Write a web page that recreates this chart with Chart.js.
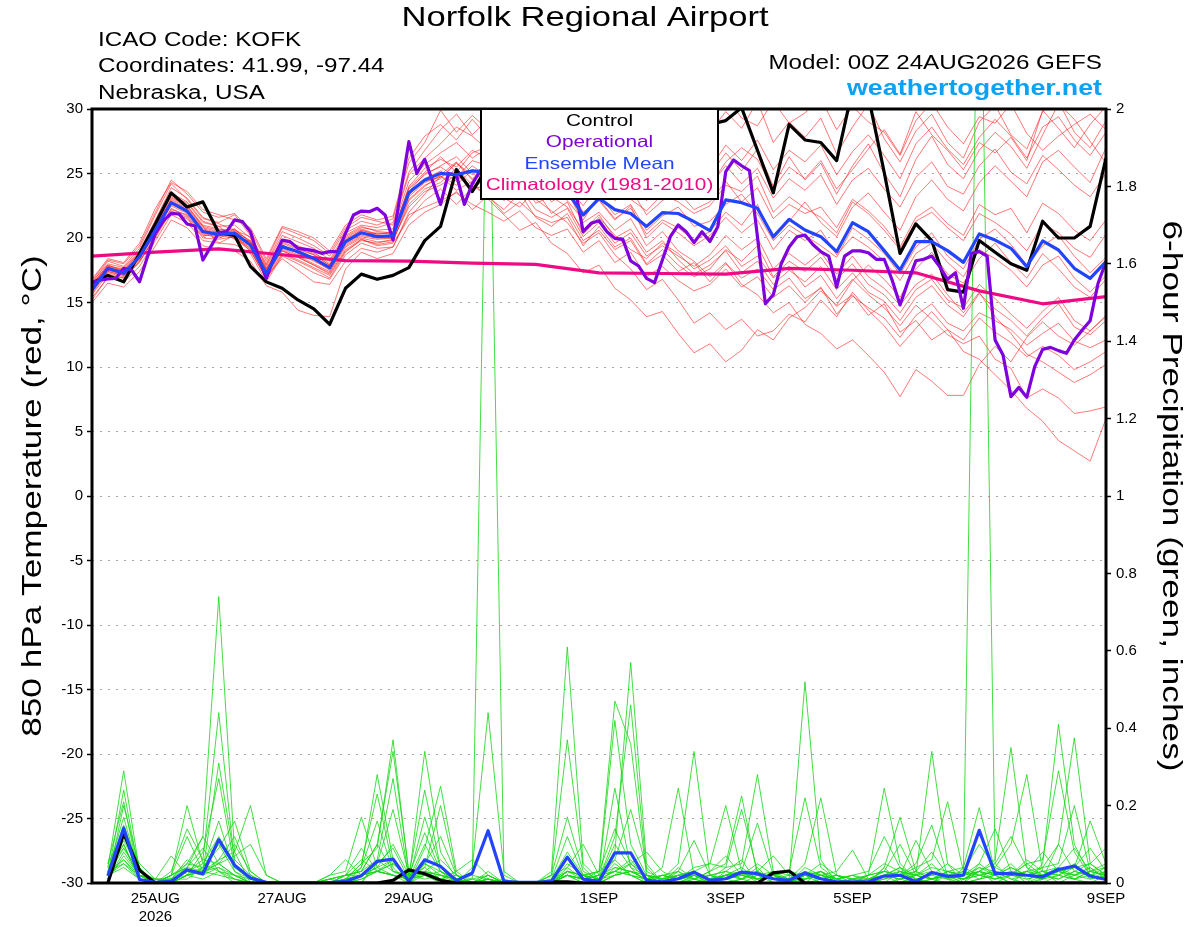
<!DOCTYPE html>
<html lang="en">
<head>
<meta charset="UTF-8">
<title>Norfolk Regional Airport - GEFS</title>
<script src="https://cdn.jsdelivr.net/npm/chart.js@4.4.1/dist/chart.umd.min.js"></script>
<style>
  html, body { margin: 0; padding: 0; background: #fff; }
</style>
</head>
<body>
<canvas id="myChart" width="1200" height="927"></canvas>
<script>
// ---- x axis (hours since 00Z 24AUG2026) ----
const TICK_HOURS = [24, 72, 120, 192, 240, 288, 336, 384];
const TICK_LABELS = ['25AUG', '27AUG', '29AUG', '1SEP', '3SEP', '5SEP', '7SEP', '9SEP'];
const YEAR_LABEL = '2026';

// ---- 850 hPa temperature, 6-hourly (65 values) ----
const CONTROL_T = [16.5,17.1,16.6,18.8,21.1, 23.5,22.4,22.8,20.4,20.2, 17.8,16.6,16.1,15.2,14.5, 13.3,16.1,17.2,16.8,17.1, 17.7,19.8,20.9,25.3,23.6, 25.6,26.8,27.3,26.4,27.9, 28.3,27.2,28.6,27.5,26.9, 27.8,28.4,27.6,28.2,28.8, 29.1,30.1,26.8,23.5,28.8, 27.6,27.4,26.0,31.5,31.0, 25.1,18.8,21.1,19.8,16.0, 15.8,19.8,18.9,18.0,17.5, 21.3,20.0,20.0,20.9,26.2];
const MEAN_T = [15.97,17.65,17.26,18.55,20.62, 22.74,22.09,20.49,20.28,20.36, 19.46,17.26,19.33,18.94,18.42, 17.70,19.72,20.41,20.10,20.16, 23.51,24.50,25.01,24.90,25.20, 25.1,24.9,24.6,24.2,23.9, 23.6,21.78,23.07,22.2,21.9, 20.9,21.96,21.9,21.27,20.57, 22.95,22.74,22.3,20.1,21.45, 20.62,20.1,18.94,21.19,20.49, 19.02,17.52,19.72,19.72,19.02, 18.11,20.31,19.84,19.2,17.78, 19.77,19.07,17.65,16.87,18.17];
// operational run is 3-hourly (129 values)
const OPER_T = [16.54,16.74,16.82,16.87,17.65, 17.52,16.61,18.55,20.36,21.34, 21.91,21.86,21.09,20.93,18.29, 19.33,20.41,20.49,21.40,21.27, 20.49,18.55,16.87,18.55,19.84, 19.72,19.20,19.12,19.02,18.81, 18.94,18.94,20.36,21.78,22.09, 22.04,22.30,21.78,19.84,23.72, 27.47,25.0,26.1,24.4,22.6, 25.0,24.9,22.6,24.2,25.2, 25.8,24.9,26.3,25.5,26.8, 26.0,25.4,26.6,25.7,24.9, 24.2,23.8,20.49,21.14,21.34, 20.49,19.97,19.90,18.22,17.83, 16.87,16.54,18.29,20.10,21.01, 20.49,19.64,20.49,19.72,20.88, 25.14,26.05,25.6,25.22,20.1, 14.9,15.6,18.0,19.3,20.1, 20.23,19.5,18.94,18.6,16.2, 18.6,19.0,19.0,18.86,18.35, 18.35,16.74,14.81,16.6,18.24, 18.35,18.6,17.78,16.8,17.31, 14.55,18.81,18.94,18.6,12.09, 10.93,7.7,8.42,7.65,10.03, 11.37,11.52,11.27,11.06,12.09, 12.87,13.59,16.49,18.17];
// climatology read once a day (17 values)
const CLIMO_T = [18.6,18.9,19.15,18.7,18.25,18.2,18.05,17.95,17.3,17.25,17.2,17.65,17.5,17.3,15.9,14.9,15.45];

const RED_01 = [16.5,18.2,17.8,19.2,21.8, 24.2,23.0,21.5,21.2,21.8, 20.2,18.0,20.5,20.0,19.4, 18.6,20.6,21.3,21.0,21.5, 25.8,27.4,29.9,28.2,29.5, 28.4,30.5,29.0,28.1,29.6, 27.3,26.0,28.5,27.2,29.4, 26.5,28.8,29.9,27.0,28.2, 29.8,28.5,30.6,27.4,29.0, 27.8,29.3,26.5,28.6,30.4, 27.7,25.9,28.3,29.6,27.4, 26.2,29.0,30.3,28.0,26.9, 29.8,30.6,28.2,27.0,29.1];
const RED_02 = [15.2,17.0,16.9,18.1,20.2, 22.0,21.5,20.1,20.6,19.9, 19.8,17.7,19.0,18.5,17.9, 17.3,19.3,20.0,19.7,19.8, 22.6,23.8,24.3,25.4,24.1, 23.2,22.2,23.5,21.6,20.9, 21.9,19.8,20.6,19.1,19.8, 17.9,18.7,17.4,18.1,16.6, 18.0,16.9,17.6,16.0,16.9, 15.3,16.1,14.7,15.6,14.0, 14.9,12.7,13.6,12.1,12.9, 11.2,10.6,9.4,8.2,6.8, 5.8,4.3,3.5,2.7,6.0];
const RED_03 = [16.0,17.4,17.1,18.4,20.8, 23.0,22.4,20.9,19.6,20.2, 19.1,16.8,18.7,18.2,17.6, 16.9,18.9,19.9,19.4,19.6, 21.5,22.9,23.8,22.6,23.9, 24.6,23.1,22.4,23.8,21.9, 22.8,20.3,21.6,20.2,19.1, 18.4,19.6,18.8,17.6,18.3, 19.4,17.8,18.6,16.9,17.8, 16.2,17.1,15.3,16.8,15.6, 14.6,13.2,14.8,13.7,12.5, 11.8,12.4,10.6,9.9,7.6, 8.3,7.6,6.4,6.6,6.9];
const RED_04 = [15.8,17.6,17.5,18.8,21.0, 23.3,22.7,21.2,20.9,20.0, 19.0,17.0,18.4,17.5,16.6, 16.4,18.2,19.2,18.9,19.3, 22.0,23.4,24.8,23.7,24.4, 23.0,21.8,20.6,21.2,19.6, 18.8,17.3,17.9,16.1,15.2, 13.9,14.3,12.6,11.1,11.8, 10.4,11.3,12.9,12.1,13.8, 14.6,15.9,14.8,16.7,17.9, 16.8,15.4,17.6,18.9,17.2, 16.5,18.4,19.6,18.1,16.9, 18.8,17.6,16.2,15.4,16.8];
const RED_05 = [16.4,17.9,17.4,18.3,20.4, 22.5,21.9,20.6,20.1,20.7, 19.6,17.4,19.6,19.1,18.7, 17.9,20.0,20.7,20.3,20.5, 23.8,24.9,25.6,26.3,25.0, 24.4,23.6,24.9,23.0,22.1, 21.2,19.6,20.4,18.7,17.6, 16.0,16.8,15.2,13.4,14.2, 12.9,13.7,12.4,12.8,14.1, 13.5,15.2,13.9,15.8,14.4, 13.2,11.6,13.0,14.3,12.9, 12.1,13.8,12.7,11.9,10.8, 11.6,10.9,9.8,10.4,11.2];
const RED_06 = [16.1,17.5,17.2,18.7,20.9, 22.9,22.3,20.8,20.5,20.1, 19.3,17.1,19.1,18.6,18.0, 17.4,19.5,20.2,20.0,20.0, 23.0,24.1,24.6,25.8,24.9, 25.7,24.2,23.3,24.5,22.8, 23.6,21.2,22.0,20.6,21.5, 19.4,20.5,19.0,18.2,17.0, 18.1,16.4,15.6,14.2,15.0, 13.3,12.6,11.4,12.1,10.9, 9.6,7.7,9.8,8.9,7.8, 7.8,10.2,11.6,10.4,12.3, 13.5,12.4,11.7,12.8,13.9];
const RED_07 = [16.3,17.8,17.6,18.9,21.2, 23.5,22.8,21.3,20.9,21.0, 20.0,17.8,19.9,19.3,18.8, 18.2,20.1,20.8,20.6,20.7, 24.4,25.7,26.6,27.4,26.2, 27.0,26.1,27.8,25.9,26.7, 25.4,23.6,25.7,24.3,25.9, 23.1,24.6,25.9,23.8,24.9, 26.6,25.2,26.9,24.0,26.3, 24.5,25.8,23.4,25.6,27.3, 25.0,23.2,26.1,27.9,25.7, 24.6,26.8,28.2,27.1,25.4, 28.0,30.4,29.2,27.5,25.8];
const RED_08 = [15.9,17.3,17.0,18.5,20.3, 22.2,21.8,20.3,20.0,20.5, 19.4,17.2,19.4,19.0,18.5, 17.8,19.8,20.6,20.2,20.1, 23.2,24.3,24.8,24.1,25.3, 24.8,25.5,24.0,23.6,24.2, 22.9,21.4,23.3,21.8,22.6, 20.6,21.7,22.4,20.9,21.3, 22.6,23.4,21.9,19.8,21.0, 20.2,19.4,18.5,20.8,19.9, 18.8,17.2,19.3,20.4,18.6, 17.6,19.9,20.7,19.5,17.9, 19.4,20.2,18.6,17.3,18.5];
const RED_09 = [16.6,18.0,17.7,19.0,21.4, 23.9,23.1,21.6,21.1,20.6, 20.1,17.9,20.2,19.7,19.2, 18.3,20.4,21.0,20.8,21.2, 25.1,26.8,28.4,29.6,28.0, 29.2,28.0,26.9,27.6,26.1, 25.2,23.8,25.0,23.9,23.0, 22.1,23.4,22.8,21.9,22.5, 24.1,23.6,24.8,22.0,23.2, 22.3,21.6,20.4,22.8,21.9, 20.6,19.1,21.3,22.0,20.8, 19.8,21.9,21.2,20.3,19.0, 21.1,20.4,19.2,18.5,20.3];
const RED_10 = [15.4,16.9,16.6,17.8,19.8, 21.8,21.2,19.8,19.6,19.5, 18.8,16.6,18.6,18.0,17.3, 16.8,18.7,19.6,19.2,19.3, 21.8,22.4,22.9,23.5,22.6, 22.0,21.3,22.1,20.8,20.2, 20.7,18.9,19.8,18.1,18.9, 17.0,17.8,16.7,15.9,16.4, 17.6,16.2,17.0,15.4,16.3, 15.0,16.2,14.1,15.5,14.6, 13.8,12.3,14.0,14.9,13.4, 12.8,14.2,13.6,12.9,11.7, 12.6,13.4,12.0,11.5,12.1];
const RED_11 = [16.7,18.3,18.0,19.4,22.0, 24.5,23.4,22.0,21.6,21.9, 20.6,18.2,20.8,20.3,19.8, 18.8,20.8,21.6,21.3,21.0, 24.9,26.2,27.3,28.6,27.9, 26.8,28.9,27.4,29.5,28.3, 26.9,25.1,27.9,26.4,28.3, 27.1,29.6,28.0,30.2,29.4, 31.0,29.3,28.7,30.6,28.9, 29.7,30.8,28.4,30.2,29.0, 28.2,26.4,29.1,30.5,28.6, 27.3,29.4,28.9,30.4,28.1, 26.8,27.9,28.8,29.6,28.4];
const RED_12 = [16.0,17.7,17.3,18.6,20.7, 22.8,22.2,20.7,20.4,20.2, 19.7,17.5,19.5,18.8,18.2, 17.6,19.6,20.3,20.4,20.3, 23.6,25.0,25.5,24.7,26.0, 25.6,24.8,25.9,24.4,25.1, 24.0,22.5,24.2,22.9,23.8, 21.8,22.9,23.6,22.2,22.8, 24.4,22.8,23.9,21.5,22.6, 21.9,22.4,20.8,23.0,22.1, 20.9,19.3,21.6,22.4,21.1, 20.2,22.6,21.8,22.3,20.4, 22.7,21.9,20.6,19.8,21.4];
const RED_13 = [15.7,17.4,17.1,18.2,20.1, 22.3,21.7,20.2,20.2,20.0, 19.2,17.0,19.0,18.5,17.9, 17.2,19.1,19.9,19.5,19.7, 22.9,24.0,24.9,25.9,24.5, 25.3,24.5,23.8,24.9,23.4, 24.1,22.0,23.0,21.5,22.3, 20.3,21.4,20.8,19.8,20.5, 22.0,21.0,22.6,19.9,21.3, 22.8,21.2,20.1,22.4,23.5, 22.0,20.6,23.2,24.5,23.0, 22.1,24.3,25.6,24.4,23.2, 25.9,26.8,25.5,24.3,27.0];
const RED_14 = [16.2,17.6,17.3,18.4,20.5, 22.6,22.0,20.4,20.2,20.6, 19.5,17.3,19.2,18.7,18.3, 17.5,19.4,20.1,19.9,20.0, 23.3,24.6,25.2,24.4,25.6, 24.7,23.4,24.6,22.7,23.2, 22.4,20.6,21.8,20.0,20.7, 18.9,19.8,18.3,17.2,17.9, 19.0,17.3,18.2,16.4,17.5, 16.6,17.8,16.0,17.3,15.8, 15.1,13.6,15.4,16.3,14.8, 13.9,15.7,14.5,13.6,12.4, 13.8,14.9,13.1,12.5,13.6];
const RED_15 = [16.4,17.9,17.5,18.8,21.1, 23.2,22.5,21.0,20.7,20.5, 19.8,17.6,19.8,19.4,18.9, 18.0,20.2,20.9,20.5,20.4, 24.0,25.4,26.1,25.5,26.8, 26.2,27.3,25.6,26.4,25.0, 24.7,23.0,24.6,23.5,24.9, 22.9,24.0,24.8,23.0,24.1, 25.6,24.2,25.4,23.1,24.6, 23.7,24.9,22.6,24.5,25.4, 23.8,22.4,24.7,25.9,24.0, 23.4,25.6,26.9,25.1,24.2, 26.4,25.3,24.1,23.2,25.0];
const RED_16 = [15.6,17.2,16.9,18.2,20.0, 22.1,21.6,20.0,19.9,20.1, 19.0,16.9,18.8,18.3,17.7, 17.1,19.0,19.8,19.6,19.9, 22.4,23.6,24.1,24.9,23.8, 24.1,22.9,23.9,22.2,21.6, 22.3,20.1,21.2,19.6,20.4, 18.6,19.4,18.6,17.8,18.7, 20.2,19.1,20.0,17.6,18.8, 17.9,18.9,17.2,18.6,17.0, 16.1,14.8,16.4,17.2,15.6, 14.2,15.8,13.9,12.6,11.0, 10.4,9.6,8.8,9.4,10.2];
const RED_17 = [15.0,16.5,16.2,17.4,19.4, 21.4,20.8,19.4,19.1,19.0, 18.2,16.3,15.8,14.4,14.0, 13.9,17.6,18.9,18.4,18.8, 21.0,22.0,22.6,23.6,22.2, 23.3,21.9,22.8,21.7,21.2, 21.6,19.4,20.9,19.3,20.0, 18.0,19.1,17.9,17.0,17.6, 19.1,18.2,19.4,17.0,18.2, 17.4,18.5,16.8,18.0,16.4, 15.6,14.2,16.0,16.8,15.2, 14.6,16.4,15.3,14.1,13.0, 14.3,15.4,13.6,12.8,14.0];
const RED_18 = [16.8,18.4,18.1,19.6,22.3, 24.3,23.6,22.2,21.8,21.4, 20.8,18.4,20.9,20.5,20.0, 19.0,21.0,21.8,21.4,21.7, 26.2,27.9,28.8,27.6,29.2, 27.8,29.6,28.3,27.1,28.8, 26.2,24.4,26.9,25.6,27.1, 25.0,26.6,27.4,26.0,25.4, 27.2,26.0,27.6,25.3,26.8, 25.9,27.2,24.9,26.7,28.0, 26.4,24.6,27.3,28.6,26.9, 25.7,27.8,29.2,27.9,26.2, 28.6,29.4,27.6,26.4,28.2];
const RED_19 = [16.1,17.5,17.2,18.6,20.6, 22.7,22.0,20.6,20.3,20.3, 19.4,17.3,19.4,18.9,18.4, 17.7,19.6,20.4,20.1,20.2, 23.4,24.4,24.7,25.8,24.6, 25.4,26.1,24.9,25.3,23.7, 23.9,21.8,22.9,21.4,22.5, 20.0,21.2,20.4,19.4,20.2, 21.6,20.4,21.4,19.1,20.6, 19.8,20.6,18.7,20.1,19.3, 18.2,16.7,18.8,19.6,18.1, 17.0,19.1,18.4,17.5,16.2, 17.9,18.6,16.9,15.8,17.1];
const RED_20 = [16.3,17.8,17.4,18.7,20.9, 23.1,22.5,20.9,20.6,20.7, 19.7,17.6,19.7,19.2,18.7, 17.9,19.9,20.6,20.3,20.4, 23.9,25.1,26.3,25.1,26.6, 27.1,25.9,26.8,25.5,26.2, 25.6,24.0,25.3,23.7,25.2, 23.6,25.1,24.4,23.4,24.0, 25.9,27.0,26.1,23.8,25.5, 24.6,26.0,23.8,25.3,26.9, 28.4,26.5,29.8,28.0,26.8, 25.3,27.4,26.6,27.8,26.0, 29.9,28.5,27.0,28.8,30.2];

// ---- 6-hour precipitation, inches (65 slots, first slot empty) ----
const CONTROL_P = [null,0,0.128,0.033,0, 0,0,0,0,0, 0,0,0,0,0, 0,0,0,0,0.007, 0.034,0.024,0.007,0,0, 0,0,0,0,0.003, 0.003,0,0,0,0, 0,0,0,0,0, 0,0,0,0.026,0.031, 0,0,0,0,0, 0,0,0,0,0, 0,0,0,0,0, 0,0,0,0,0];
const MEAN_P = [null,0.019,0.142,0.009,0.002, 0.004,0.034,0.024,0.112,0.046, 0.013,0.002,0.001,0.001,0.001, 0.001,0.004,0.019,0.056,0.062, 0.004,0.060,0.043,0.006,0.026, 0.135,0.004,0.002,0.002,0.004, 0.067,0.010,0.004,0.078,0.078, 0.007,0.003,0.011,0.028,0.007, 0.011,0.028,0.024,0.011,0.007, 0.026,0.011,0.003,0.003,0.003, 0.018,0.020,0.004,0.027,0.017, 0.020,0.136,0.024,0.024,0.020, 0.016,0.035,0.044,0.018,0.009];

const GRN_01 = [null,0.04,0.29,0.03,0, 0.02,0.05,0.12,0.74,0.08, 0,0,0,0,0, 0,0.01,0.05,0.09,0.37, 0.02,0.04,0.01,0,0, 0,0,0,0,0.03, 0.61,0.05,0.01,0.06,0.02, 0,0,0.01,0,0, 0.02,0.03,0,0,0.01, 0.52,0.06,0,0,0, 0.02,0.01,0,0,0.03, 0.01,0.04,0.02,0,0, 0.05,0.41,0.1,0.02,0.01];
const GRN_02 = [null,0.02,0.24,0.02,0, 0,0.03,0.06,0.44,0.05, 0.01,0,0,0,0, 0,0,0.04,0.28,0.06, 0,0.05,0.03,0,0.01, 2.3,0.02,0,0,0, 0.03,0.01,0,0.08,0.57, 0.05,0,0,0.02,0, 0,0.01,0.03,0,0, 0.02,0,0,0.01,0, 0,0.03,0,0.01,0.02, 0,0.03,0.06,0.35,0.04, 0,0.02,0.05,0.01,0.03];
const GRN_03 = [null,0.05,0.21,0.01,0, 0.01,0.04,0.03,0.31,0.06, 0.02,0,0,0,0, 0.01,0,0,0.05,0.09, 0.01,0.34,0.08,0.01,0, 0.01,0,0,0,0, 0.05,0.02,0.03,0.47,0.36, 0.02,0,0.04,0.01,0, 0.03,0.06,0,0,0, 0.01,0.03,0,0,0, 0.04,0,0.02,0.34,0.05, 0,0.01,0.02,0,0.03, 0.01,0.1,0.375,0.05,0.02];
const GRN_04 = [null,0.01,0.2,0.04,0, 0.02,0.2,0.05,0.03,0, 0,0,0,0,0, 0,0.02,0.03,0.1,0.34, 0.03,0.02,0,0,0, 0.01,0,0,0,0.01, 0.02,0,0.01,0.12,0.46, 0.03,0.01,0.05,0.34,0.02, 0,0.01,0,0.02,0, 0,0.01,0,0,0.01, 0.02,0,0.01,0,0.03, 0.02,2.7,0.05,0.01,0, 0.02,0.04,0.01,0,0.02];
const GRN_05 = [null,0.03,0.17,0.02,0.01, 0,0.02,0.08,0.27,0.04, 0.01,0,0,0,0, 0,0,0.02,0.04,0.06, 0,0.09,0.25,0.03,0, 0.02,0,0,0,0.02, 0.37,0.04,0,0.02,0.05, 0.01,0,0.03,0,0.01, 0.04,0.05,0.28,0.03,0, 0.02,0.01,0,0,0, 0,0.01,0.02,0.05,0.01, 0,0.01,0.04,0.1,0.28, 0.03,0,0.02,0.04,0.01];
const GRN_06 = [null,0.02,0.15,0.03,0, 0.01,0.01,0.04,0.09,0.16, 0.03,0,0,0,0, 0,0,0,0.06,0.27, 0.01,0.05,0.02,0,0, 0,0.01,0,0,0, 0.04,0.01,0.02,0.42,0.1, 0.02,0,0,0.01,0.03, 0.05,0.225,0.02,0,0, 0.03,0,0,0.01,0, 0.02,0.04,0,0.01,0.02, 0.01,0.03,0,0.02,0.05, 0.06,0.29,0.08,0.02,0.03];
const GRN_07 = [null,0.01,0.12,0.02,0, 0.03,0.14,0.06,0.05,0.02, 0,0,0,0,0, 0,0.01,0.05,0.23,0.04, 0,0.02,0.01,0,0.04, 0.44,0.03,0,0,0, 0.02,0,0.01,0.03,0.06, 0.01,0.04,0.245,0.02,0, 0.01,0,0.02,0.01,0, 0.04,0.02,0,0,0.02, 0.245,0.05,0.01,0,0.02, 0,0.05,0.02,0.03,0, 0.01,0.03,0.02,0.04,0.01];
const GRN_08 = [null,0.03,0.1,0.01,0, 0,0.02,0.03,0.06,0.08, 0.2,0.02,0,0,0, 0,0,0.01,0.03,0.05, 0.02,0.24,0.04,0,0, 0,0,0,0,0.01, 0.03,0.02,0,0.245,0.04, 0,0.01,0.02,0,0.02, 0.03,0.01,0.04,0,0.01, 0.05,0.22,0.02,0,0, 0.01,0.02,0.03,0.01,0, 0.04,0.02,0.01,0.03,0.02, 0.04,0.05,0.2,0.03,0.02];
const GRN_09 = [null,0.02,0.09,0.03,0.01, 0.01,0.05,0.04,0.16,0.03, 0.01,0,0,0,0, 0.02,0.03,0.17,0.04,0.02, 0.01,0.03,0.02,0.01,0, 0.03,0,0,0,0.02, 0.17,0.03,0.01,0.05,0.02, 0,0.02,0.01,0.04,0.05, 0.2,0.03,0.01,0.02,0, 0.03,0.01,0.02,0,0.01, 0.03,0.02,0.04,0.06,0.21, 0.03,0.01,0.02,0.05,0.01, 0.02,0.03,0.01,0.02,0.04];
const GRN_10 = [null,0.01,0.07,0.02,0, 0.02,0.12,0.03,0.02,0.01, 0,0,0,0,0, 0,0.01,0.02,0.05,0.19, 0.02,0.03,0.01,0.02,0, 0.01,0,0,0,0, 0.02,0.01,0.03,0.06,0.19, 0.04,0,0.01,0.03,0.01, 0.02,0.01,0.02,0.03,0.01, 0,0.03,0.01,0,0, 0.04,0.17,0.03,0.01,0.02, 0.01,0.02,0.03,0.01,0.02, 0.03,0.02,0.04,0.16,0.05];
const GRN_11 = [null,0.02,0.06,0.01,0, 0.02,0.04,0.12,0.05,0.02, 0,0,0,0,0, 0.01,0.02,0.02,0.03,0.06, 0.01,0.04,0.2,0.02,0.01, 0.02,0,0,0,0.01, 0.12,0.02,0.01,0.02,0.03, 0.01,0.02,0.03,0.01,0, 0.02,0.04,0.01,0.02,0.03, 0.22,0.04,0.01,0,0.02, 0.05,0.03,0.02,0.01,0.03, 0.04,0.195,0.03,0.02,0.01, 0.02,0.01,0.03,0.02,0.01];
const GRN_12 = [null,0.03,0.05,0.02,0, 0.01,0.03,0.05,0.12,0.04, 0.01,0,0,0,0, 0,0.01,0.04,0.16,0.03, 0.01,0.02,0.03,0.01,0, 0.02,0,0,0,0, 0.03,0.02,0.03,0.14,0.05, 0.02,0.01,0.02,0.03,0.05, 0.04,0.19,0.03,0.01,0, 0.02,0.03,0,0.01,0.02, 0.03,0.02,0.05,0.15,0.02, 0.01,0.03,0.02,0.04,0.02, 0.01,0.04,0.02,0.03,0.02];
const GRN_13 = [null,0.01,0.08,0.02,0, 0.01,0.03,0.02,0.06,0.12, 0.02,0,0,0,0, 0,0,0.01,0.03,0.05, 0.01,0.17,0.04,0.01,0.02, 0.01,0,0,0,0, 0.02,0.01,0,0.04,0.03, 0.02,0.01,0.03,0.11,0.02, 0.01,0.02,0.05,0.02,0.01, 0.01,0.02,0.03,0.085,0.01, 0.02,0.04,0.01,0.02,0.05, 0.02,0.03,0.05,0.12,0.04, 0.02,0.01,0.03,0.05,0.02];
const GRN_14 = [null,0.02,0.04,0.01,0, 0,0.02,0.03,0.05,0.07, 0.1,0.02,0,0,0, 0.01,0.02,0.09,0.03,0.02, 0,0.03,0.02,0.01,0, 0.01,0,0,0,0.02, 0.04,0.1,0.02,0.03,0.02, 0.01,0,0.02,0.03,0.01, 0.02,0.03,0.155,0.02,0.01, 0.03,0.02,0.01,0.02,0, 0.01,0.03,0.02,0.04,0.03, 0.02,0.05,0.14,0.03,0.02, 0.01,0.02,0.01,0.03,0.04];
const GRN_15 = [null,0.03,0.06,0.02,0.01, 0.01,0.02,0.04,0.1,0.03, 0,0,0,0,0, 0,0.02,0.03,0.1,0.03, 0.02,0.13,0.03,0,0.01, 0,0,0,0,0, 0.03,0.02,0.01,0.1,0.04, 0.02,0.01,0.02,0.01,0.02, 0.03,0.02,0.01,0.03,0.02, 0.01,0.02,0.01,0.02,0.03, 0.12,0.04,0.02,0.01,0.02, 0.03,0.02,0.01,0.02,0.03, 0.04,0.1,0.03,0.02,0.01];
const GRN_16 = [null,0.02,0.05,0.01,0, 0.01,0.06,0.03,0.04,0.02, 0.01,0,0,0,0, 0,0.01,0.02,0.04,0.1, 0.02,0.05,0.12,0.02,0, 0.01,0,0,0,0.01, 0.08,0.02,0,0.02,0.03, 0.01,0.02,0.01,0.02,0.01, 0.01,0.02,0.03,0.01,0.02, 0.02,0.01,0.02,0.01,0.01, 0.03,0.02,0.11,0.03,0.01, 0.02,0.04,0.03,0.02,0.05, 0.02,0.03,0.04,0.05,0.09];
const GRN_17 = [null,0.04,0.09,0.02,0.01, 0.07,0.02,0.01,0.03,0.01, 0,0,0,0,0, 0.02,0.06,0.02,0.03,0.02, 0.01,0.02,0.01,0.03,0.06, 0.02,0,0,0,0, 0.02,0.01,0.02,0.03,0.02, 0.01,0,0.02,0.01,0.03, 0.07,0.02,0.01,0.02,0.03, 0.02,0.03,0.01,0.02,0.01, 0.02,0.01,0.03,0.08,0.02, 0.01,0.03,0.02,0.04,0.02, 0.03,0.04,0.09,0.03,0.02];
const GRN_18 = [null,0.02,0.11,0.03,0, 0.02,0.04,0.09,0.03,0.02, 0,0,0,0,0, 0,0.02,0.06,0.03,0.02, 0.01,0.03,0.06,0.02,0, 0.01,0,0,0,0, 0.02,0.01,0.02,0.04,0.03, 0.02,0.01,0.01,0.02,0.01, 0.02,0.01,0.03,0.07,0.02, 0.01,0.02,0.01,0,0.01, 0.02,0.03,0.01,0.02,0.01, 0.03,0.1,0.04,0.02,0.03, 0.08,0.03,0.02,0.01,0.02];
const GRN_19 = [null,0.05,0.13,0.05,0.01, 0.01,0.03,0.02,0.04,0.01, 0,0,0,0,0, 0.01,0.02,0.03,0.06,0.03, 0.02,0.01,0.02,0.01,0, 0.01,0,0,0,0, 0.03,0.02,0.01,0.03,0.05, 0.08,0.03,0.01,0.02,0.01, 0.02,0.03,0.01,0.02,0.01, 0.02,0.01,0.02,0.01,0.02, 0.03,0.1,0.02,0.01,0.03, 0.02,0.03,0.01,0.02,0.03, 0.02,0.03,0.04,0.09,0.03];
const GRN_20 = [null,0.03,0.1,0.01,0, 0,0.02,0.03,0.05,0.1, 0.03,0,0,0,0, 0,0.01,0.02,0.03,0.02, 0.01,0.1,0.03,0.01,0, 0,0,0,0,0, 0.02,0.01,0,0.02,0.03, 0.01,0.02,0.01,0.02,0.02, 0.01,0.02,0.01,0.02,0.01, 0.02,0.05,0.02,0.01,0, 0.02,0.01,0.02,0.03,0.02, 0.01,0.02,0.03,0.02,0.06, 0.03,0.02,0.01,0.03,0.05];

const TEMP_MEMBERS = [RED_01, RED_02, RED_03, RED_04, RED_05, RED_06, RED_07, RED_08, RED_09, RED_10,
  RED_11, RED_12, RED_13, RED_14, RED_15, RED_16, RED_17, RED_18, RED_19, RED_20];
const PRECIP_MEMBERS = [GRN_01, GRN_02, GRN_03, GRN_04, GRN_05, GRN_06, GRN_07, GRN_08, GRN_09, GRN_10,
  GRN_11, GRN_12, GRN_13, GRN_14, GRN_15, GRN_16, GRN_17, GRN_18, GRN_19, GRN_20];

const LEGEND_ITEMS = [
  { text: 'Control', color: '#000000' },
  { text: 'Operational', color: '#7f00dd' },
  { text: 'Ensemble Mean', color: '#2244ff' },
  { text: 'Climatology (1981-2010)', color: '#ee0a84' }
];

const FONT = "'Liberation Sans', Arial, Helvetica, sans-serif";
Chart.defaults.font.family = FONT;
Chart.defaults.color = '#000';

// turn a list of values into points on the hour axis
function toPoints(values, stepHours) {
  return values.map((v, i) => ({ x: i * stepHours, y: v }));
}

// the original plot uses a wide sans face, so text is stretched sideways
function wideText(ctx, text, x, y, opts) {
  ctx.save();
  ctx.translate(x, y);
  if (opts.rotate) ctx.rotate(opts.rotate);
  ctx.scale(opts.sx || 1, 1);
  ctx.font = opts.font;
  ctx.fillStyle = opts.color || '#000';
  ctx.textAlign = opts.align || 'left';
  ctx.textBaseline = 'middle';
  ctx.fillText(text, 0, 0);
  ctx.restore();
}

const datasets = [];
TEMP_MEMBERS.forEach(m => datasets.push({
  data: toPoints(m, 6), yAxisID: 'yT', borderColor: 'rgba(255,30,30,0.6)', borderWidth: 1, order: 6
}));
PRECIP_MEMBERS.forEach(m => datasets.push({
  data: toPoints(m, 6), yAxisID: 'yP', borderColor: 'rgba(20,215,20,0.8)', borderWidth: 1, order: 5
}));
datasets.push({ data: toPoints(CLIMO_T, 24), yAxisID: 'yT', borderColor: '#ee0a84', borderWidth: 3.2, order: 4 });
datasets.push({ data: toPoints(CONTROL_T, 6), yAxisID: 'yT', borderColor: '#000', borderWidth: 3.2, order: 3 });
datasets.push({ data: toPoints(CONTROL_P, 6), yAxisID: 'yP', borderColor: '#000', borderWidth: 3.2, order: 3 });
datasets.push({ data: toPoints(OPER_T, 3), yAxisID: 'yT', borderColor: '#7f00dd', borderWidth: 3.2, order: 2 });
datasets.push({ data: toPoints(MEAN_T, 6), yAxisID: 'yT', borderColor: '#2244ff', borderWidth: 3.2, order: 1 });
datasets.push({ data: toPoints(MEAN_P, 6), yAxisID: 'yP', borderColor: '#2244ff', borderWidth: 3.2, order: 1 });

// frame around the plot + the boxed legend
const frameLegend = {
  id: 'frameLegend',
  afterDatasetsDraw(chart) {
    const { ctx, chartArea: a } = chart;
    ctx.save();
    ctx.strokeStyle = '#000';
    ctx.lineWidth = 3;
    ctx.strokeRect(a.left, a.top, a.right - a.left, a.bottom - a.top);

    const bx = 481, by = a.top, bw = 237, bh = 90;
    ctx.fillStyle = '#fff';
    ctx.fillRect(bx, by, bw, bh);
    ctx.lineWidth = 2;
    ctx.strokeRect(bx, by, bw, bh);
    ctx.restore();
    LEGEND_ITEMS.forEach((it, k) => {
      wideText(ctx, it.text, bx + bw / 2, by + 12.5 + k * 21.3,
        { font: '16.5px ' + FONT, sx: 1.26, align: 'center', color: it.color });
    });
  }
};

// station info above the plot and the two axis titles
const header = {
  id: 'header',
  afterDraw(chart) {
    const ctx = chart.ctx;
    const a = chart.chartArea;
    const midY = (a.top + a.bottom) / 2;
    wideText(ctx, 'Norfolk Regional Airport', 585, 18, { font: '28px ' + FONT, sx: 1.235, align: 'center' });

    const f20 = '20px ' + FONT;
    wideText(ctx, 'ICAO Code: KOFK', 98, 40, { font: f20, sx: 1.21 });
    wideText(ctx, 'Coordinates: 41.99, -97.44', 98, 66, { font: f20, sx: 1.21 });
    wideText(ctx, 'Nebraska, USA', 98, 93, { font: f20, sx: 1.21 });
    wideText(ctx, 'Model: 00Z 24AUG2026 GEFS', 1102, 63, { font: f20, sx: 1.21, align: 'right' });
    wideText(ctx, 'weathertogether.net', 1102, 89,
      { font: 'bold 22px ' + FONT, sx: 1.22, align: 'right', color: '#0aa2f5' });

    wideText(ctx, '850 hPa Temperature (red, °C)', 33, midY,
      { font: '28px ' + FONT, sx: 1.257, align: 'center', rotate: -Math.PI / 2 });
    wideText(ctx, '6-hour Precipitation (green, inches)', 1171, midY,
      { font: '28px ' + FONT, sx: 1.26, align: 'center', rotate: Math.PI / 2 });
  }
};

new Chart(document.getElementById('myChart'), {
  type: 'line',
  data: { datasets },
  plugins: [frameLegend, header],
  options: {
    responsive: false,
    animation: false,
    events: [],
    layout: { padding: { top: 109, left: 0, right: 0, bottom: 0 } },
    elements: {
      point: { radius: 0 },
      line: { tension: 0, fill: false, borderJoinStyle: 'round' }
    },
    plugins: { legend: { display: false }, tooltip: { enabled: false }, title: { display: false } },
    scales: {
      x: {
        type: 'linear', min: 0, max: 384,
        afterBuildTicks: s => { s.ticks = TICK_HOURS.map(v => ({ value: v })); },
        afterFit: s => { s.height = 44; },
        grid: { display: false, drawTicks: false },
        border: { display: false },
        ticks: {
          color: '#000', font: { size: 15 }, padding: 7, maxRotation: 0, autoSkip: false,
          callback: v => {
            const k = TICK_HOURS.indexOf(v);
            return k === 0 ? [TICK_LABELS[k], YEAR_LABEL] : TICK_LABELS[k];
          }
        }
      },
      yT: {
        position: 'left', min: -30, max: 30,
        afterFit: s => { s.width = 92; },
        ticks: { stepSize: 5, color: '#000', font: { size: 15 }, padding: 4 },
        grid: { color: '#a8a8a8', lineWidth: 1, tickColor: '#000', tickLength: 5, tickWidth: 1.5 },
        border: { display: false, dash: [2, 6] }
      },
      yP: {
        position: 'right', min: 0, max: 2,
        afterFit: s => { s.width = 94; },
        ticks: { stepSize: 0.2, color: '#000', font: { size: 15 }, padding: 5,
          callback: v => String(Math.round(v * 10) / 10) },
        grid: { drawOnChartArea: false, color: '#000', tickLength: 5, tickWidth: 1.5 },
        border: { display: false }
      }
    }
  }
});
</script>
</body>
</html>
